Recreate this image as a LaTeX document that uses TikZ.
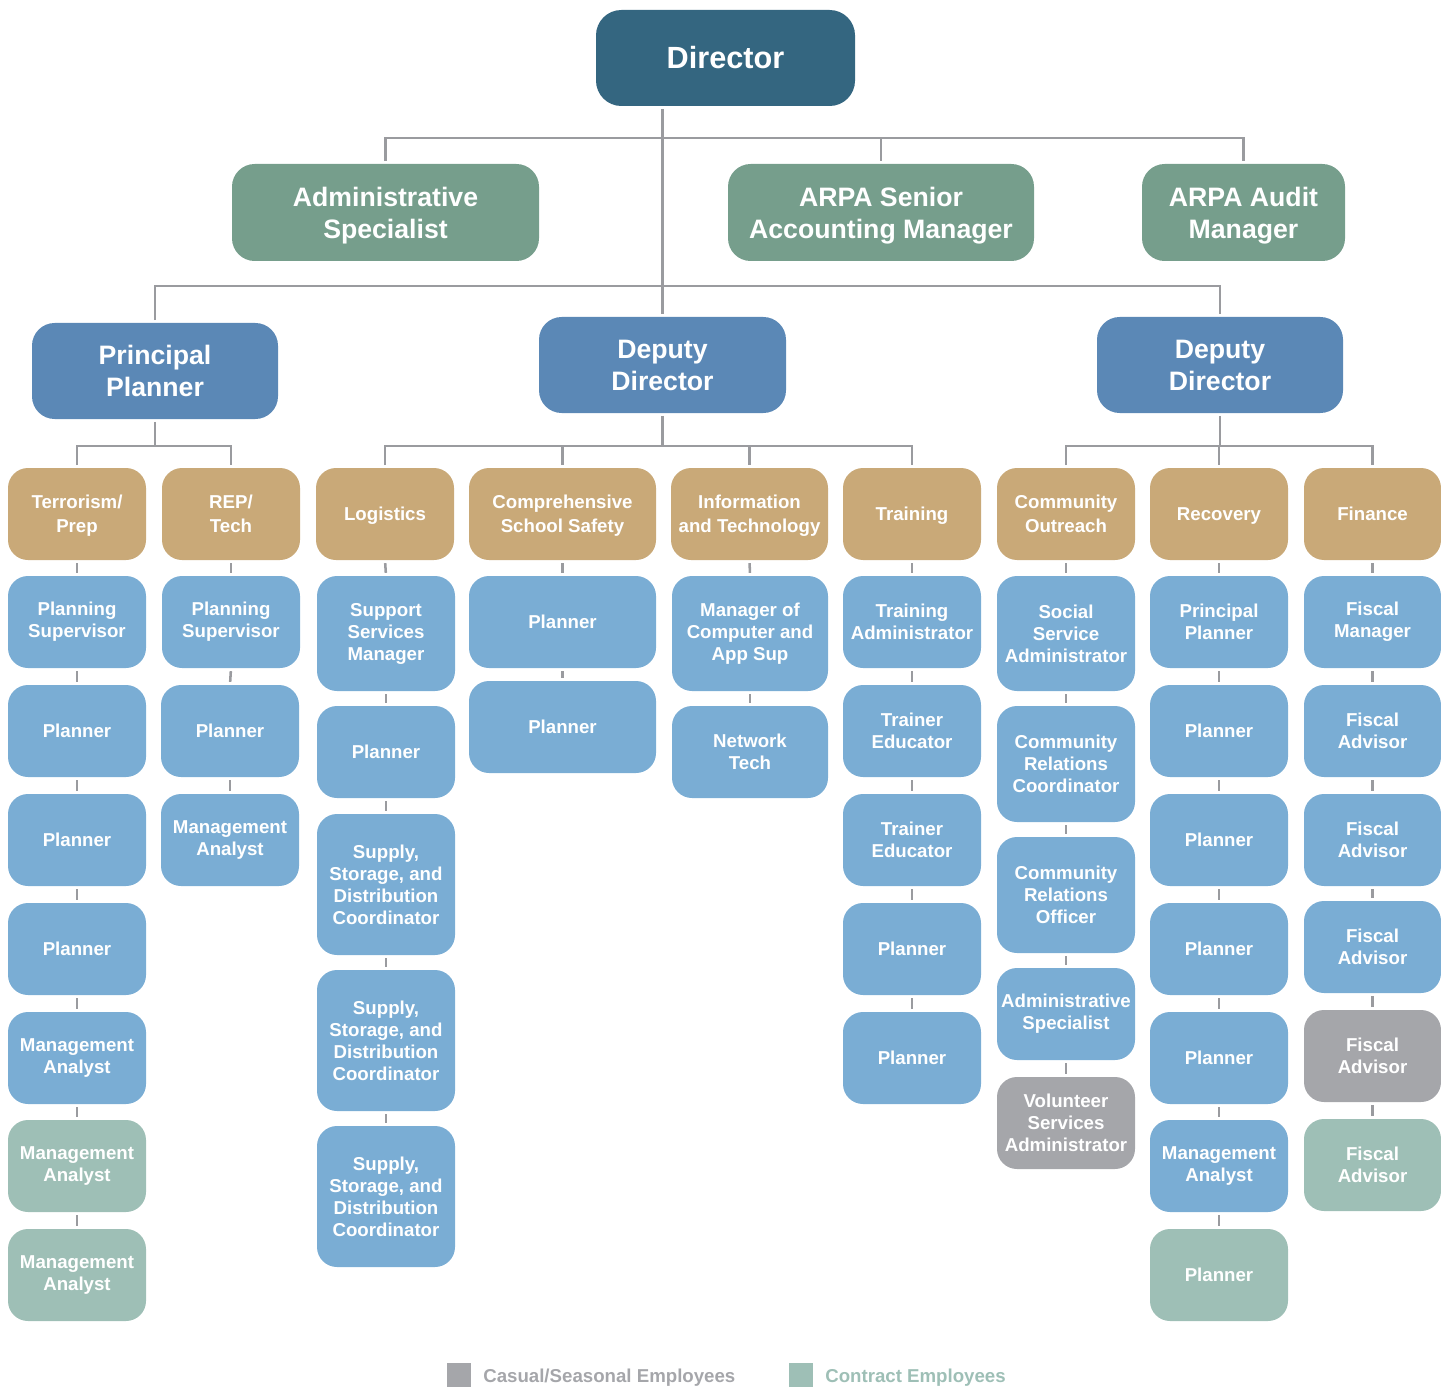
\documentclass[tikz,border=0pt]{standalone}
\usepackage{fontspec}
\setmainfont{Liberation Sans}
\definecolor{cDir}{HTML}{346680}
\definecolor{cSage}{HTML}{769E8C}
\definecolor{cDep}{HTML}{5B88B6}
\definecolor{cTan}{HTML}{C9A978}
\definecolor{cBlue}{HTML}{7AADD4}
\definecolor{cGray}{HTML}{A5A6AA}
\definecolor{cCon}{HTML}{9EBFB6}
\definecolor{cLine}{HTML}{9A9B9F}
\tikzset{
 ob/.style={rectangle, rounded corners=15pt, inner sep=0pt, text=white, align=center,
   font=\bfseries\fontsize{14}{16.5}\selectfont},
 big/.style={font=\bfseries\fontsize{20}{24}\selectfont, rounded corners=17pt},
 lvtwo/.style={big, text depth=0pt},
 tan/.style={font=\bfseries\fontsize{14}{18}\selectfont, text depth=0pt},
 ln/.style={draw=cLine, line width=1.9pt},
 tk/.style={ln, shorten <=2.2pt, shorten >=2.2pt},
 legtext/.style={anchor=base west, inner sep=0pt, font=\bfseries\fontsize{14}{16.5}\selectfont},
}
\newcommand{\obx}[8][]{\node[ob,#1,fill=#3,minimum width={(#6-#5)*0.75pt},minimum height={(#8-#7)*0.75pt}] (#2) at ({(#5+#6)/2},{(#7+#8)/2}) {#4};}
\begin{document}
\begin{tikzpicture}[x=0.75pt,y=-0.75pt]
\useasboundingbox (0,0) rectangle (1441,1387);
% top levels
\obx[big,font=\bfseries\fontsize{23}{27}\selectfont,rounded corners=19pt]{dir}{cDir}{Director}{596}{855}{10}{106}
\obx[lvtwo]{adm}{cSage}{Administrative\\Specialist}{232}{539}{164}{261}
\obx[lvtwo]{sam}{cSage}{ARPA Senior\\Accounting Manager}{728}{1034}{164}{261}
\obx[lvtwo]{aud}{cSage}{ARPA Audit\\Manager}{1142}{1345}{164}{261}
\obx[big]{pp}{cDep}{Principal\\Planner}{32}{278}{323}{419}
\obx[big]{dd1}{cDep}{Deputy\\Director}{539}{786}{317}{413}
\obx[big]{dd2}{cDep}{Deputy\\Director}{1097}{1343}{317}{413}
% column 1
\obx[tan]{t1}{cTan}{Terrorism/\\Prep}{8}{146}{468}{560}
\obx{c1a}{cBlue}{Planning\\Supervisor}{8}{146}{576}{668}
\obx{c1b}{cBlue}{Planner}{8}{146}{685}{777}
\obx{c1c}{cBlue}{Planner}{8}{146}{794}{886}
\obx{c1d}{cBlue}{Planner}{8}{146}{903}{995}
\obx{c1e}{cBlue}{Management\\Analyst}{8}{146}{1012}{1104}
\obx{c1f}{cCon}{Management\\Analyst}{8}{146}{1120}{1212}
\obx{c1g}{cCon}{Management\\Analyst}{8}{146}{1229}{1321}
% column 2
\obx[tan]{t2}{cTan}{REP/\\Tech}{162}{300}{468}{560}
\obx{c2a}{cBlue}{Planning\\Supervisor}{162}{300}{576}{668}
\obx{c2b}{cBlue}{Planner}{161}{299}{685}{777}
\obx{c2c}{cBlue}{Management\\Analyst}{161}{299}{794}{886}
% column 3
\obx[tan]{t3}{cTan}{Logistics}{316}{454}{468}{560}
\obx{c3a}{cBlue}{Support\\Services\\Manager}{317}{455}{576}{691}
\obx{c3b}{cBlue}{Planner}{317}{455}{706}{798}
\obx{c3c}{cBlue}{Supply,\\Storage, and\\Distribution\\Coordinator}{317}{455}{814}{955}
\obx{c3d}{cBlue}{Supply,\\Storage, and\\Distribution\\Coordinator}{317}{455}{970}{1111}
\obx{c3e}{cBlue}{Supply,\\Storage, and\\Distribution\\Coordinator}{317}{455}{1126}{1267}
% column 4
\obx[tan]{t4}{cTan}{Comprehensive\\School Safety}{469}{656}{468}{560}
\obx{c4a}{cBlue}{Planner}{469}{656}{576}{668}
\obx{c4b}{cBlue}{Planner}{469}{656}{681}{773}
% column 5
\obx[tan]{t5}{cTan}{Information\\and Technology}{671}{828}{468}{560}
\obx{c5a}{cBlue}{Manager of\\Computer and\\App Sup}{672}{828}{576}{691}
\obx{c5b}{cBlue}{Network\\Tech}{672}{828}{706}{798}
% column 6
\obx[tan]{t6}{cTan}{Training}{843}{981}{468}{560}
\obx{c6a}{cBlue}{Training\\Administrator}{843}{981}{576}{668}
\obx{c6b}{cBlue}{Trainer\\Educator}{843}{981}{685}{777}
\obx{c6c}{cBlue}{Trainer\\Educator}{843}{981}{794}{886}
\obx{c6d}{cBlue}{Planner}{843}{981}{903}{995}
\obx{c6e}{cBlue}{Planner}{843}{981}{1012}{1104}
% column 7
\obx[tan]{t7}{cTan}{Community\\Outreach}{997}{1135}{468}{560}
\obx{c7a}{cBlue}{Social\\Service\\Administrator}{997}{1135}{576}{691}
\obx{c7b}{cBlue}{Community\\Relations\\Coordinator}{997}{1135}{706}{822}
\obx{c7c}{cBlue}{Community\\Relations\\Officer}{997}{1135}{837}{953}
\obx{c7d}{cBlue}{Administrative\\Specialist}{997}{1135}{968}{1060}
\obx{c7e}{cGray}{Volunteer\\Services\\Administrator}{997}{1135}{1077}{1169}
% column 8
\obx[tan]{t8}{cTan}{Recovery}{1150}{1288}{468}{560}
\obx{c8a}{cBlue}{Principal\\Planner}{1150}{1288}{576}{668}
\obx{c8b}{cBlue}{Planner}{1150}{1288}{685}{777}
\obx{c8c}{cBlue}{Planner}{1150}{1288}{794}{886}
\obx{c8d}{cBlue}{Planner}{1150}{1288}{903}{995}
\obx{c8e}{cBlue}{Planner}{1150}{1288}{1012}{1104}
\obx{c8f}{cBlue}{Management\\Analyst}{1150}{1288}{1120}{1212}
\obx{c8g}{cCon}{Planner}{1150}{1288}{1229}{1321}
% column 9
\obx[tan]{t9}{cTan}{Finance}{1304}{1441}{468}{560}
\obx{c9a}{cBlue}{Fiscal\\Manager}{1304}{1441}{576}{668}
\obx{c9b}{cBlue}{Fiscal\\Advisor}{1304}{1441}{685}{777}
\obx{c9c}{cBlue}{Fiscal\\Advisor}{1304}{1441}{794}{886}
\obx{c9d}{cBlue}{Fiscal\\Advisor}{1304}{1441}{901}{993}
\obx{c9e}{cGray}{Fiscal\\Advisor}{1304}{1441}{1010}{1102}
\obx{c9f}{cCon}{Fiscal\\Advisor}{1304}{1441}{1119}{1211}
% hierarchy connectors
\coordinate (h1) at (0,138);
\coordinate (h2) at (0,286);
\coordinate (h3) at (0,446);
\draw[ln, shorten <=2pt, shorten >=2pt] (dir.south -| dd1.north) -- (dd1.north);
\draw[ln, shorten <=2pt, shorten >=2pt] (adm.north) -- (adm.north |- h1) -- (aud.north |- h1) -- (aud.north);
\draw[ln, shorten >=2pt] (sam.north |- h1) -- (sam.north);
\draw[ln, shorten <=2pt, shorten >=2pt] (pp.north) -- (pp.north |- h2) -- (dd2.north |- h2) -- (dd2.north);
\draw[ln, shorten <=2pt] (pp.south) -- (pp.south |- h3);
\draw[ln, shorten <=2pt, shorten >=2pt] (t1.north) -- (t1.north |- h3) -- (t2.north |- h3) -- (t2.north);
\draw[ln, shorten <=2pt] (dd1.south) -- (dd1.south |- h3);
\draw[ln, shorten <=2pt, shorten >=2pt] (t3.north) -- (t3.north |- h3) -- (t6.north |- h3) -- (t6.north);
\draw[ln, shorten >=2pt] (t4.north |- h3) -- (t4.north);
\draw[ln, shorten >=2pt] (t5.north |- h3) -- (t5.north);
\draw[ln, shorten <=2pt] (dd2.south) -- (dd2.south |- h3);
\draw[ln, shorten <=2pt, shorten >=2pt] (t7.north) -- (t7.north |- h3) -- (t9.north |- h3) -- (t9.north);
\draw[ln, shorten >=2pt] (t8.north |- h3) -- (t8.north);
% column ticks
\foreach \a/\b in {t1/c1a,c1a/c1b,c1b/c1c,c1c/c1d,c1d/c1e,c1e/c1f,c1f/c1g,
  t2/c2a,c2a/c2b,c2b/c2c,
  t3/c3a,c3a/c3b,c3b/c3c,c3c/c3d,c3d/c3e,
  t4/c4a,c4a/c4b,
  t5/c5a,c5a/c5b,
  t6/c6a,c6a/c6b,c6b/c6c,c6c/c6d,c6d/c6e,
  t7/c7a,c7a/c7b,c7b/c7c,c7c/c7d,c7d/c7e,
  t8/c8a,c8a/c8b,c8b/c8c,c8c/c8d,c8d/c8e,c8e/c8f,c8f/c8g,
  t9/c9a,c9a/c9b,c9b/c9c,c9c/c9d,c9d/c9e,c9e/c9f}
  \draw[tk] (\a.south) -- (\b.north);
% legend
\node[fill=cGray, minimum size=18pt, inner sep=0pt] (lg1) at (459,1374.5) {};
\node[legtext, text=cGray] (lt1) at (483,1382) {Casual/Seasonal Employees};
\node[fill=cCon, minimum size=18pt, inner sep=0pt] (lg2) at (801,1374.5) {};
\node[legtext, text=cCon] (lt2) at (825,1382) {Contract Employees};
\end{tikzpicture}
\end{document}
